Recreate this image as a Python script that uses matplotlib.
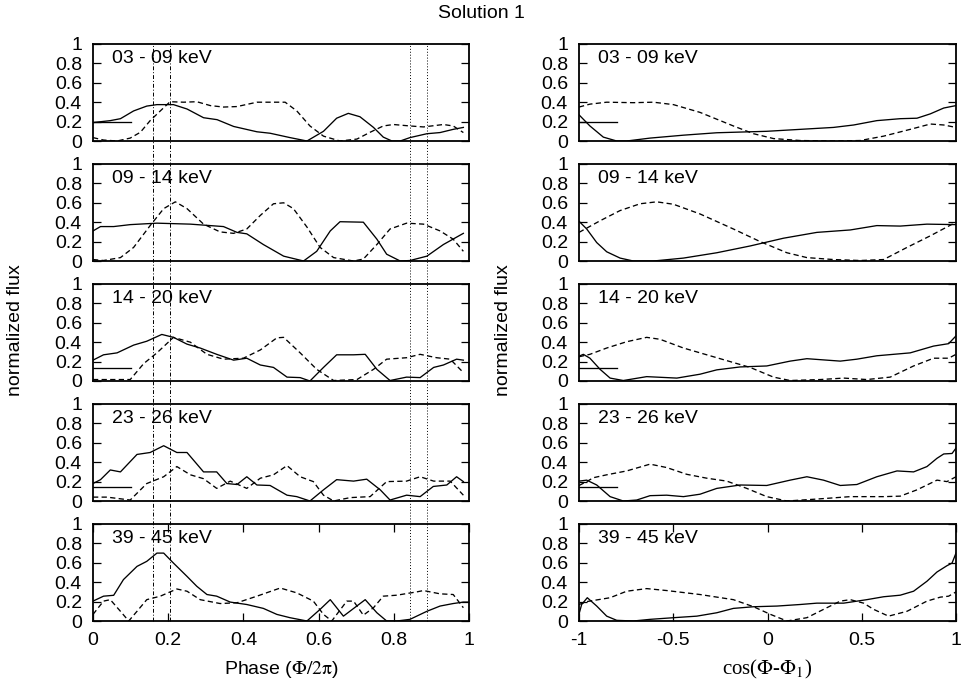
import numpy as np
import matplotlib.pyplot as plt
from matplotlib.lines import Line2D
from matplotlib.transforms import blended_transform_factory

plt.rcParams['font.family'] = ['Liberation Sans', 'DejaVu Sans']
plt.rcParams['mathtext.fontset'] = 'stix'

bands = ['03 - 09 keV', '09 - 14 keV', '14 - 20 keV', '23 - 26 keV', '39 - 45 keV']

# ---- left column: flux vs phase ----
ph1_sol_x = [0, 0.046, 0.073, 0.108, 0.143, 0.17, 0.214, 0.25, 0.294, 0.33, 0.374, 0.436, 0.471, 0.524, 0.569,
             0.613, 0.648, 0.679, 0.71, 0.746, 0.772, 0.795, 0.817, 0.843, 0.888, 0.923, 0.958, 0.985]
ph1_sol_y = [0.19, 0.21, 0.23, 0.31, 0.36, 0.375, 0.375, 0.33, 0.24, 0.22, 0.15, 0.095, 0.08, 0.035, 0.0,
             0.1, 0.235, 0.285, 0.25, 0.14, 0.04, 0.0, 0.0, 0.035, 0.075, 0.087, 0.12, 0.14]
ph1_das_x = [0, 0.028, 0.064, 0.099, 0.126, 0.152, 0.179, 0.205, 0.241, 0.276, 0.312, 0.347, 0.383, 0.436, 0.471,
             0.511, 0.542, 0.577, 0.613, 0.657, 0.702, 0.737, 0.772, 0.799, 0.843, 0.879, 0.932, 0.958, 0.985]
ph1_das_y = [0.035, 0.01, 0.0, 0.03, 0.09, 0.21, 0.31, 0.405, 0.4, 0.405, 0.365, 0.35, 0.355, 0.4, 0.4,
             0.4, 0.31, 0.155, 0.05, 0.0, 0.02, 0.09, 0.155, 0.17, 0.155, 0.145, 0.17, 0.155, 0.087]

ph2_sol_x = [0, 0.02, 0.055, 0.099, 0.17, 0.259, 0.347, 0.383, 0.409, 0.453, 0.507, 0.56, 0.595, 0.631, 0.657,
             0.719, 0.755, 0.781, 0.817, 0.843, 0.888, 0.932, 0.985]
ph2_sol_y = [0.31, 0.355, 0.355, 0.375, 0.39, 0.38, 0.355, 0.295, 0.28, 0.17, 0.05, 0.0, 0.1, 0.31, 0.405,
             0.4, 0.225, 0.07, 0.0, 0.005, 0.05, 0.17, 0.285]
ph2_das_x = [0, 0.028, 0.073, 0.108, 0.152, 0.188, 0.219, 0.25, 0.294, 0.338, 0.374, 0.409, 0.445, 0.48, 0.507,
             0.533, 0.569, 0.604, 0.64, 0.693, 0.719, 0.755, 0.79, 0.834, 0.879, 0.923, 0.958, 0.985]
ph2_das_y = [0.015, 0.005, 0.035, 0.14, 0.365, 0.54, 0.61, 0.54, 0.38, 0.3, 0.285, 0.33, 0.47, 0.59, 0.6,
             0.54, 0.35, 0.14, 0.035, 0.0, 0.02, 0.17, 0.33, 0.39, 0.38, 0.31, 0.225, 0.1]

ph3_sol_x = [0, 0.028, 0.064, 0.108, 0.143, 0.183, 0.214, 0.25, 0.285, 0.329, 0.374, 0.409, 0.445, 0.48, 0.516,
             0.551, 0.577, 0.613, 0.648, 0.693, 0.724, 0.755, 0.79, 0.834, 0.87, 0.906, 0.932, 0.967, 0.985]
ph3_sol_y = [0.215, 0.27, 0.29, 0.37, 0.41, 0.48, 0.45, 0.38, 0.34, 0.275, 0.215, 0.235, 0.165, 0.14, 0.04,
             0.035, 0.0, 0.14, 0.27, 0.27, 0.275, 0.12, 0.005, 0.04, 0.035, 0.14, 0.165, 0.225, 0.215]
ph3_das_x = [0, 0.046, 0.099, 0.135, 0.17, 0.214, 0.259, 0.303, 0.347, 0.4, 0.445, 0.489, 0.507, 0.551, 0.595,
             0.64, 0.702, 0.746, 0.781, 0.834, 0.87, 0.914, 0.95, 0.985]
ph3_das_y = [0.015, 0.015, 0.015, 0.18, 0.29, 0.45, 0.4, 0.275, 0.225, 0.235, 0.32, 0.445, 0.45, 0.29, 0.12,
             0.005, 0.015, 0.12, 0.225, 0.24, 0.275, 0.24, 0.225, 0.087]

ph4_sol_x = [0, 0.02, 0.046, 0.073, 0.117, 0.152, 0.188, 0.223, 0.25, 0.294, 0.329, 0.356, 0.383, 0.409, 0.436,
             0.471, 0.516, 0.542, 0.577, 0.613, 0.648, 0.693, 0.728, 0.764, 0.79, 0.834, 0.87, 0.905, 0.941,
             0.967, 0.985]
ph4_sol_y = [0.18, 0.22, 0.32, 0.3, 0.48, 0.5, 0.57, 0.5, 0.5, 0.3, 0.3, 0.18, 0.17, 0.25, 0.165,
             0.16, 0.06, 0.045, 0.0, 0.115, 0.22, 0.205, 0.225, 0.115, 0.01, 0.06, 0.045, 0.15, 0.165,
             0.25, 0.2]
ph4_das_x = [0, 0.037, 0.099, 0.143, 0.188, 0.223, 0.259, 0.294, 0.329, 0.365, 0.409, 0.445, 0.48, 0.516, 0.551,
             0.586, 0.613, 0.64, 0.684, 0.737, 0.781, 0.834, 0.87, 0.906, 0.95, 0.985]
ph4_das_y = [0.04, 0.04, 0.01, 0.18, 0.25, 0.355, 0.27, 0.23, 0.13, 0.205, 0.13, 0.235, 0.27, 0.365, 0.25,
             0.2, 0.06, 0.0, 0.035, 0.045, 0.2, 0.205, 0.25, 0.205, 0.205, 0.06]

ph5_sol_x = [0, 0.028, 0.055, 0.081, 0.117, 0.143, 0.17, 0.188, 0.214, 0.25, 0.276, 0.303, 0.329, 0.365, 0.409,
             0.453, 0.489, 0.524, 0.569, 0.604, 0.631, 0.666, 0.724, 0.755, 0.781, 0.808, 0.843, 0.888, 0.923,
             0.958, 0.985, 1.0]
ph5_sol_y = [0.205, 0.256, 0.265, 0.427, 0.563, 0.615, 0.7, 0.7, 0.597, 0.46, 0.358, 0.273, 0.256, 0.195, 0.17,
             0.13, 0.068, 0.034, 0.0, 0.12, 0.22, 0.05, 0.22, 0.085, 0.0, 0.0, 0.017, 0.1, 0.154,
             0.18, 0.195, 0.195]
ph5_das_x = [0, 0.028, 0.046, 0.073, 0.095, 0.117, 0.143, 0.179, 0.223, 0.25, 0.285, 0.338, 0.383, 0.436, 0.498,
             0.542, 0.586, 0.613, 0.635, 0.675, 0.693, 0.719, 0.746, 0.772, 0.808, 0.861, 0.879, 0.923, 0.958,
             0.985]
ph5_das_y = [0.068, 0.205, 0.22, 0.1, 0.0, 0.1, 0.22, 0.256, 0.33, 0.307, 0.22, 0.18, 0.188, 0.256, 0.34,
             0.29, 0.205, 0.068, 0.0, 0.205, 0.205, 0.06, 0.137, 0.256, 0.266, 0.3, 0.314, 0.28, 0.273,
             0.137]

# ---- right column: flux vs cos(phi - phi_1) ----
cs1_sol_x = [-1, -0.942, -0.871, -0.8, -0.747, -0.623, -0.446, -0.269, -0.004, 0.173, 0.35, 0.457, 0.58, 0.704,
             0.793, 0.864, 0.935, 1.0]
cs1_sol_y = [0.27, 0.155, 0.04, 0.0, 0.0, 0.03, 0.06, 0.085, 0.1, 0.12, 0.14, 0.165, 0.21, 0.23,
             0.235, 0.28, 0.34, 0.365]
cs1_das_x = [-1, -0.942, -0.853, -0.712, -0.605, -0.499, -0.358, -0.181, -0.074, 0.032, 0.173, 0.35, 0.492,
             0.616, 0.757, 0.864, 0.935, 1.0]
cs1_das_y = [0.35, 0.38, 0.4, 0.395, 0.4, 0.375, 0.295, 0.155, 0.075, 0.025, 0.005, 0.0, 0.005,
             0.05, 0.12, 0.175, 0.165, 0.14]

cs2_sol_x = [-1, -0.959, -0.906, -0.853, -0.782, -0.712, -0.605, -0.446, -0.269, -0.092, 0.085, 0.262, 0.439,
             0.58, 0.704, 0.846, 1.0]
cs2_sol_y = [0.41, 0.33, 0.19, 0.095, 0.03, 0.0, 0.0, 0.03, 0.085, 0.155, 0.235, 0.295, 0.32,
             0.365, 0.36, 0.38, 0.375]
cs2_das_x = [-1, -0.888, -0.782, -0.676, -0.588, -0.499, -0.358, -0.181, -0.039, 0.103, 0.209, 0.35, 0.492,
             0.616, 0.74, 0.864, 1.0]
cs2_das_y = [0.295, 0.415, 0.52, 0.59, 0.61, 0.585, 0.485, 0.33, 0.2, 0.085, 0.035, 0.015, 0.005,
             0.015, 0.14, 0.26, 0.4]

cs3_sol_x = [-0.995, -0.977, -0.942, -0.888, -0.835, -0.765, -0.641, -0.481, -0.358, -0.269, -0.145, -0.004,
             0.12, 0.209, 0.386, 0.474, 0.58, 0.757, 0.881, 0.961, 1.0]
cs3_sol_y = [0.26, 0.275, 0.235, 0.12, 0.03, 0.005, 0.045, 0.03, 0.07, 0.115, 0.145, 0.155,
             0.205, 0.23, 0.205, 0.225, 0.26, 0.29, 0.36, 0.385, 0.465]
cs3_das_x = [-1, -0.942, -0.853, -0.747, -0.641, -0.57, -0.446, -0.269, -0.092, 0.032, 0.12, 0.28, 0.404,
             0.527, 0.651, 0.775, 0.881, 0.961, 1.0]
cs3_das_y = [0.25, 0.275, 0.34, 0.405, 0.45, 0.43, 0.34, 0.24, 0.14, 0.04, 0.005, 0.015, 0.03,
             0.015, 0.04, 0.155, 0.235, 0.235, 0.275]

cs4_sol_x = [-1, -0.959, -0.906, -0.835, -0.765, -0.694, -0.623, -0.535, -0.446, -0.358, -0.269, -0.145,
             -0.004, 0.12, 0.209, 0.297, 0.386, 0.474, 0.58, 0.687, 0.775, 0.846, 0.899, 0.935, 0.979, 1.0]
cs4_sol_y = [0.205, 0.215, 0.165, 0.045, 0.0, 0.01, 0.055, 0.06, 0.045, 0.07, 0.13, 0.165,
             0.16, 0.215, 0.25, 0.215, 0.16, 0.17, 0.25, 0.31, 0.3, 0.355, 0.44, 0.485, 0.49, 0.545]
cs4_das_x = [-1, -0.959, -0.924, -0.853, -0.747, -0.623, -0.535, -0.428, -0.322, -0.216, -0.11, -0.004,
             0.103, 0.262, 0.439, 0.616, 0.704, 0.793, 0.899, 0.952, 1.0]
cs4_das_y = [0.16, 0.2, 0.24, 0.27, 0.31, 0.38, 0.345, 0.275, 0.235, 0.205, 0.13, 0.045,
             0.0, 0.02, 0.045, 0.045, 0.05, 0.115, 0.215, 0.2, 0.25]

cs5_sol_x = [-1, -0.986, -0.956, -0.906, -0.853, -0.8, -0.712, -0.623, -0.499, -0.375, -0.269, -0.181, -0.074,
             0.05, 0.173, 0.262, 0.404, 0.527, 0.616, 0.704, 0.775, 0.846, 0.899, 0.952, 0.979, 1.0]
cs5_sol_y = [0.07, 0.17, 0.24, 0.154, 0.05, 0.007, 0.0, 0.017, 0.034, 0.05, 0.085, 0.13, 0.147,
             0.154, 0.17, 0.184, 0.184, 0.22, 0.25, 0.266, 0.307, 0.41, 0.505, 0.57, 0.597, 0.7]
cs5_das_x = [-1, -0.959, -0.835, -0.747, -0.641, -0.535, -0.358, -0.181, -0.074, 0.016, 0.103, 0.209, 0.315,
             0.386, 0.439, 0.51, 0.563, 0.642, 0.74, 0.846, 0.917, 0.961, 1.0]
cs5_das_y = [0.17, 0.2, 0.24, 0.307, 0.334, 0.314, 0.273, 0.22, 0.147, 0.068, 0.0, 0.034, 0.137,
             0.205, 0.22, 0.184, 0.12, 0.05, 0.1, 0.205, 0.246, 0.256, 0.3]

left_curves = [(ph1_sol_x, ph1_sol_y, ph1_das_x, ph1_das_y),
               (ph2_sol_x, ph2_sol_y, ph2_das_x, ph2_das_y),
               (ph3_sol_x, ph3_sol_y, ph3_das_x, ph3_das_y),
               (ph4_sol_x, ph4_sol_y, ph4_das_x, ph4_das_y),
               (ph5_sol_x, ph5_sol_y, ph5_das_x, ph5_das_y)]
right_curves = [(cs1_sol_x, cs1_sol_y, cs1_das_x, cs1_das_y),
                (cs2_sol_x, cs2_sol_y, cs2_das_x, cs2_das_y),
                (cs3_sol_x, cs3_sol_y, cs3_das_x, cs3_das_y),
                (cs4_sol_x, cs4_sol_y, cs4_das_x, cs4_das_y),
                (cs5_sol_x, cs5_sol_y, cs5_das_x, cs5_das_y)]

# short horizontal reference levels (None = not drawn)
ref_levels = [0.2, None, 0.13, 0.14, None]
ref_left_x = [0, 0.1]
ref_right_x = [-1, -0.8]

# vertical phase markers
dashdot_phases = [0.16, 0.205]
dotted_phases = [0.843, 0.887]

W, H = 963, 684
fig = plt.figure(figsize=(W / 100, H / 100), dpi=100)
fs = 14

tops = [44, 164, 284, 404, 524]
ph = 97
dashed = (0, (4, 2.5))


def style_axes(ax, bottom):
    ax.set_ylim(0, 1)
    ax.set_yticks([0, 0.2, 0.4, 0.6, 0.8, 1])
    ax.set_yticklabels(['0', '0.2', '0.4', '0.6', '0.8', '1'])
    ax.tick_params(axis='y', direction='in', left=True, right=True, length=6, width=0.9,
                   labelsize=fs, pad=8)
    for s in ax.spines.values():
        s.set_linewidth(1.3)
    if bottom:
        ax.tick_params(axis='x', direction='in', bottom=True, top=True, length=6, width=0.9,
                       labelsize=fs, pad=8)
    else:
        ax.tick_params(axis='x', bottom=False, labelbottom=False)


left_axes = []
for i in range(5):
    b = 1 - (tops[i] + ph) / H
    axl = fig.add_axes([93 / W, b, 376 / W, ph / H])
    axr = fig.add_axes([579 / W, b, 377 / W, ph / H])
    sx, sy, dx, dy = left_curves[i]
    axl.plot(sx, sy, color='black', lw=0.95)
    axl.plot(dx, dy, color='black', lw=0.95, linestyle=dashed)
    axl.set_xlim(0, 1)
    sx, sy, dx, dy = right_curves[i]
    axr.plot(sx, sy, color='black', lw=0.95)
    axr.plot(dx, dy, color='black', lw=0.95, linestyle=dashed)
    axr.set_xlim(-1, 1)
    if ref_levels[i] is not None:
        axl.plot(ref_left_x, [ref_levels[i]] * 2, color='black', lw=0.95)
        axr.plot(ref_right_x, [ref_levels[i]] * 2, color='black', lw=0.95)
    for ax in (axl, axr):
        style_axes(ax, i == 4)
        ax.text(0.05, 0.85, bands[i], transform=ax.transAxes, fontsize=fs, va='center', ha='left')
    if i == 4:
        axl.set_xticks([0, 0.2, 0.4, 0.6, 0.8, 1])
        axl.set_xticklabels(['0', '0.2', '0.4', '0.6', '0.8', '1'])
        axr.set_xticks([-1, -0.5, 0, 0.5, 1])
        axr.set_xticklabels(['-1', '-0.5', '0', '0.5', '1'])
    left_axes.append(axl)

# vertical marker lines spanning the whole left column
tr = blended_transform_factory(left_axes[0].transData, fig.transFigure)
y_top = 1 - tops[0] / H
y_bot = 1 - (tops[4] + ph) / H
for xv in dashdot_phases:
    fig.add_artist(Line2D([xv, xv], [y_bot, y_top], transform=tr, color='black', lw=0.7,
                          linestyle=(0, (4, 2, 1, 2))))
for xv in dotted_phases:
    fig.add_artist(Line2D([xv, xv], [y_bot, y_top], transform=tr, color='black', lw=0.7,
                          linestyle=(0, (1, 2))))

fig.text(481 / W, 1 - 13 / H, 'Solution 1', ha='center', va='center', fontsize=fs)
fig.text(15 / W, 1 - 330 / H, 'normalized flux', rotation=90, ha='center', va='center', fontsize=fs)
fig.text(504 / W, 1 - 330 / H, 'normalized flux', rotation=90, ha='center', va='center', fontsize=fs)
fig.text(281 / W, 1 - 669 / H, r'Phase ($\mathrm{\Phi/2\pi}$)', ha='center', va='center', fontsize=fs)
fig.text(767 / W, 1 - 669 / H, r'cos($\mathrm{\Phi}$-$\mathrm{\Phi_1}$)', ha='center', va='center',
         fontsize=15, family='Liberation Serif')

fig.savefig('out.png', dpi=100)
